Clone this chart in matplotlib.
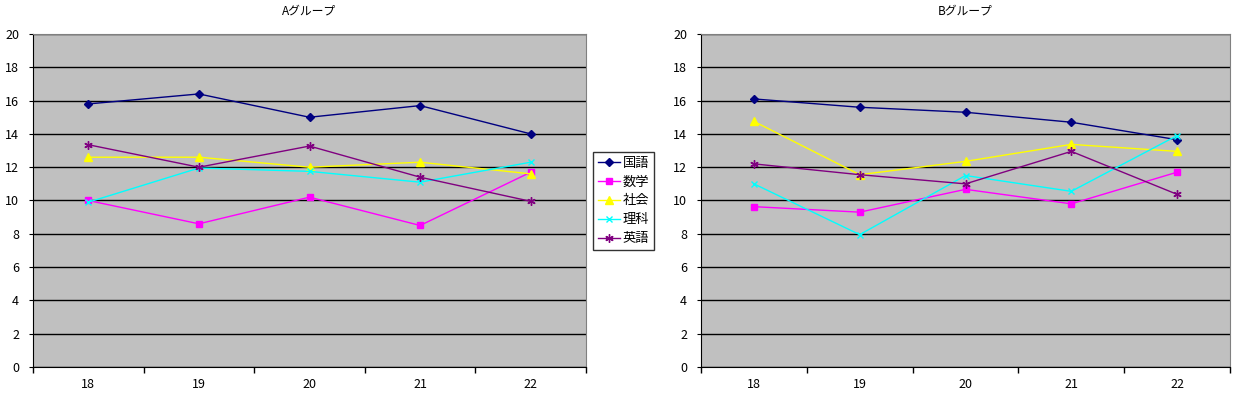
import numpy as np
import matplotlib.pyplot as plt

plt.rcParams['font.family'] = ['Noto Sans CJK JP', 'DejaVu Sans']

years = ['18', '19', '20', '21', '22']
subjects = ['国語', '数学', '社会', '理科', '英語']

# Aグループ
a_kokugo = [15.8, 16.4, 15.0, 15.7, 14.0]
a_suugaku = [10.0, 8.6, 10.2, 8.5, 11.7]
a_shakai = [12.6, 12.6, 12.0, 12.3, 11.6]
a_rika = [9.9, 11.95, 11.75, 11.1, 12.3]
a_eigo = [13.35, 12.0, 13.27, 11.4, 9.95]

# Bグループ
b_kokugo = [16.1, 15.6, 15.3, 14.7, 13.65]
b_suugaku = [9.63, 9.3, 10.67, 9.8, 11.7]
b_shakai = [14.75, 11.55, 12.35, 13.37, 12.95]
b_rika = [11.0, 7.95, 11.5, 10.55, 13.9]
b_eigo = [12.2, 11.55, 11.0, 12.95, 10.37]

colors = ['#000080', '#FF00FF', '#FFFF00', '#00FFFF', '#800080']
markers = ['D', 's', '^', 'x', (6, 2, 0)]
msizes = [4, 5, 6, 5, 6]

fig = plt.figure(figsize=(12.36, 3.98), dpi=100)
fig.patch.set_facecolor('white')

W, H = 1236, 398
def box(l, r, t, b):
    return [l / W, (H - b) / H, (r - l) / W, (b - t) / H]

ax_a = fig.add_axes(box(33, 586, 34, 367))
ax_b = fig.add_axes(box(701, 1230, 34, 367))

groups = [
    (ax_a, 'Aグループ', [a_kokugo, a_suugaku, a_shakai, a_rika, a_eigo]),
    (ax_b, 'Bグループ', [b_kokugo, b_suugaku, b_shakai, b_rika, b_eigo]),
]

x = np.arange(len(years))
for ax, title, series in groups:
    ax.set_facecolor('#C0C0C0')
    for vals, name, c, m, ms in zip(series, subjects, colors, markers, msizes):
        ax.plot(x, vals, color=c, marker=m, markersize=ms, linewidth=1,
                markeredgewidth=1, label=name, zorder=3)
    ax.set_xlim(-0.5, len(years) - 0.5)
    ax.set_ylim(0, 20)
    ax.set_yticks(np.arange(0, 21, 2))
    ax.set_xticks(x)
    ax.set_xticklabels(years)
    ax.set_xticks(np.arange(-0.5, len(years), 1), minor=True)
    ax.tick_params(axis='x', which='major', length=0, pad=8, labelsize=9)
    ax.tick_params(axis='x', which='minor', length=4, direction='out', width=1)
    ax.tick_params(axis='y', length=3, labelsize=9, pad=7)
    ax.grid(axis='y', color='black', linewidth=1, zorder=1)
    ax.set_axisbelow(True)
    for s in ['top', 'right']:
        ax.spines[s].set_color('#808080')
    for s in ['left', 'bottom']:
        ax.spines[s].set_color('black')
    ax.set_title(title, fontsize=8.5, pad=14)

handles, labels = ax_a.get_legend_handles_labels()
leg = fig.legend(handles, labels, loc='upper left',
                 bbox_to_anchor=(593 / W, (H - 152) / H),
                 fontsize=9.5, frameon=True, fancybox=False, edgecolor='black',
                 handlelength=1.7, handletextpad=0.2, borderpad=0.35,
                 labelspacing=0.45, borderaxespad=0)
leg.get_frame().set_linewidth(1)

fig.savefig('out.png', dpi=100)
